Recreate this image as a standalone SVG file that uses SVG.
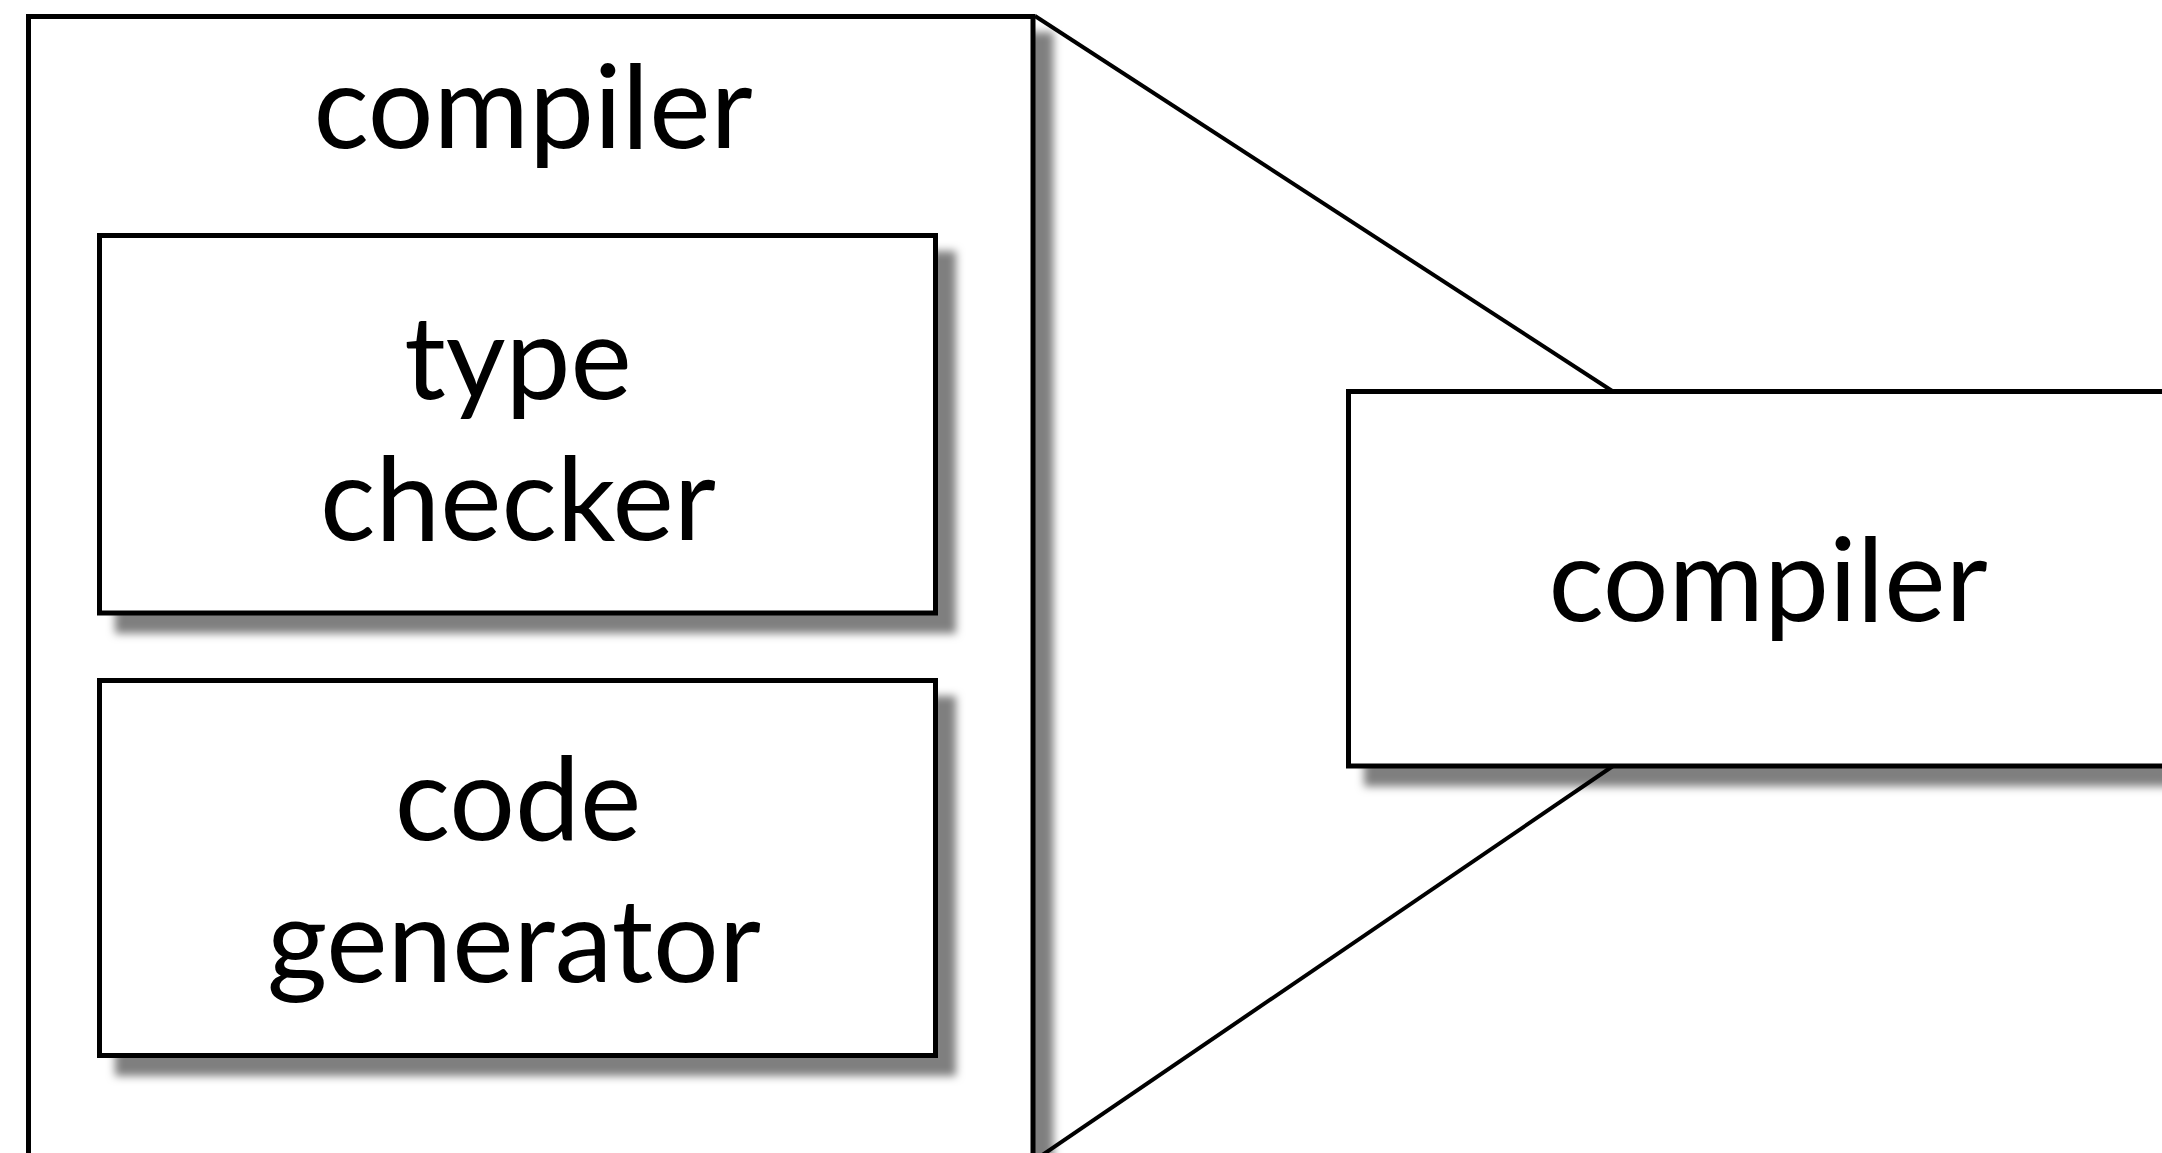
<svg xmlns="http://www.w3.org/2000/svg" width="2162" height="1153" viewBox="0 0 2162 1153">
  <defs>
    <!-- soft drop shadow cast down and to the right -->
    <filter id="drop" x="-10%" y="-10%" width="130%" height="130%" color-interpolation-filters="sRGB">
      <feOffset in="SourceAlpha" dx="18" dy="18" result="off"/>
      <feGaussianBlur in="off" stdDeviation="4" result="blur"/>
      <feFlood flood-color="#000" flood-opacity="0.5"/>
      <feComposite in2="blur" operator="in" result="shadow"/>
      <feMerge>
        <feMergeNode in="shadow"/>
        <feMergeNode in="SourceGraphic"/>
      </feMerge>
    </filter>
  </defs>
  <style>
    .box { fill: #fff; stroke: #000; stroke-width: 5; }
    .label { font-family: Lato, "Open Sans", "Liberation Sans", sans-serif; font-size: 116px; fill: #000; text-anchor: middle; }
    .link { stroke: #000; stroke-width: 4; fill: none; }
  </style>
  <rect width="2162" height="1153" fill="#fff"/>

  <!-- expanded compiler with its two stages -->
  <g id="compiler-detail">
    <rect class="box" x="28.5" y="16.5" width="1004.5" height="1170" filter="url(#drop)"/>
    <text class="label" x="533" y="148">compiler</text>
  </g>
  <g id="type-checker">
    <rect class="box" x="99.5" y="235.5" width="836" height="377.5" filter="url(#drop)"/>
    <text class="label" x="518" y="399">type</text>
    <text class="label" x="518" y="540">checker</text>
  </g>
  <g id="code-generator">
    <rect class="box" x="99.5" y="680.5" width="836" height="375" filter="url(#drop)"/>
    <text class="label" x="518" y="840">code</text>
    <text class="label" x="514" y="982">generator</text>
  </g>

  <!-- compiler seen as a single block -->
  <g id="compiler">
    <rect class="box" x="1348.5" y="391.5" width="840" height="374.5" filter="url(#drop)"/>
    <text class="label" x="1768" y="621">compiler</text>
  </g>

  <!-- zoom-out lines joining the two views -->
  <g id="connectors">
    <line class="link" x1="1035" y1="16" x2="1613" y2="391.5"/>
    <line class="link" x1="1613" y1="766" x2="1035" y2="1160"/>
  </g>
</svg>
